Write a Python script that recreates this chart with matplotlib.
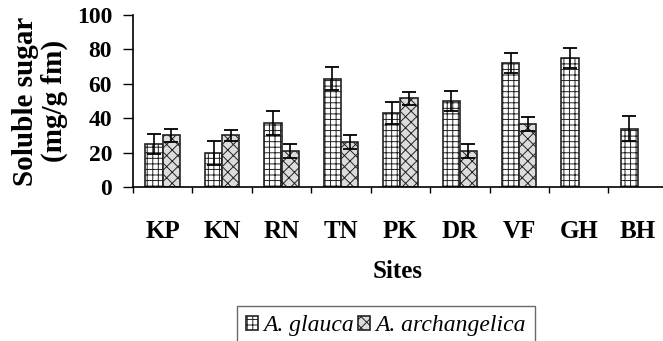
import numpy as np
import matplotlib
matplotlib.use("Agg")
import matplotlib.pyplot as plt

sites = ["KP", "KN", "RN", "TN", "PK", "DR", "VF", "GH", "BH"]
glauca = [25, 20, 37, 63, 43, 50, 72, 75, 34]
glauca_err = [6, 7, 7, 6.5, 6.5, 6, 6, 6, 7]
archangelica = [30, 30, 21, 26, 51.5, 21, 36.5, np.nan, np.nan]
archangelica_err = [4, 3, 4, 4, 4, 4, 4, np.nan, np.nan]
y_ticks = [0, 20, 40, 60, 80, 100]

plt.rcParams["font.family"] = ["Liberation Serif", "DejaVu Serif"]
plt.rcParams["hatch.linewidth"] = 0.7
plt.rcParams["hatch.color"] = "#555555"

fig = plt.figure(figsize=(6.63, 3.41), dpi=100)
ax = fig.add_axes([133 / 663, 154 / 341, 530 / 663, 172 / 341])

x = np.arange(len(sites))
w = 0.29
err_kw = dict(ecolor="black", elinewidth=1.2, capsize=5, capthick=1.3)
ax.bar(x - w / 2, glauca, w, yerr=glauca_err, facecolor="white",
       edgecolor="#222222", hatch="+++", linewidth=1.2, error_kw=err_kw,
       label="A. glauca")
ax.bar(x + w / 2, archangelica, w, yerr=archangelica_err, facecolor="#dcdcdc",
       edgecolor="#222222", hatch="xxx", linewidth=1.2, error_kw=err_kw,
       label="A. archangelica")

ax.set_xlim(-0.5, 8.42)
ax.set_ylim(0, 100)
ax.set_yticks(y_ticks)
ax.set_yticklabels([str(t) for t in y_ticks], fontsize=17, fontweight="bold")
ax.set_xticks(np.arange(-0.5, 8.5, 1.0))
ax.set_xticklabels([])
ax.set_xticks(x, minor=True)
ax.set_xticklabels(sites, minor=True, fontsize=18, fontweight="bold")
ax.tick_params(axis="x", which="minor", length=0, pad=24)
ax.tick_params(axis="x", which="major", direction="out", length=4, width=1)
ax.tick_params(axis="y", direction="out", length=7, width=1, pad=8)
for s in ("top", "right"):
    ax.spines[s].set_visible(False)
ax.spines["left"].set_linewidth(1.2)
ax.spines["bottom"].set_linewidth(1.2)

ax.set_xlabel("Sites", fontsize=18, fontweight="bold", labelpad=12)
ax.set_ylabel("Soluble sugar\n(mg/g fm)", fontsize=21, fontweight="bold",
              labelpad=6, linespacing=1.1)

fig.legend(loc="upper center", bbox_to_anchor=(386 / 663, 1 - 294 / 341),
           ncol=2, frameon=True, fancybox=False, edgecolor="#444444",
           prop=dict(family="Liberation Serif", style="italic", size=17),
           handlelength=0.5, handleheight=0.5, handletextpad=0.2,
           columnspacing=0.2, borderpad=0.4)

fig.savefig("out.png", dpi=100)
